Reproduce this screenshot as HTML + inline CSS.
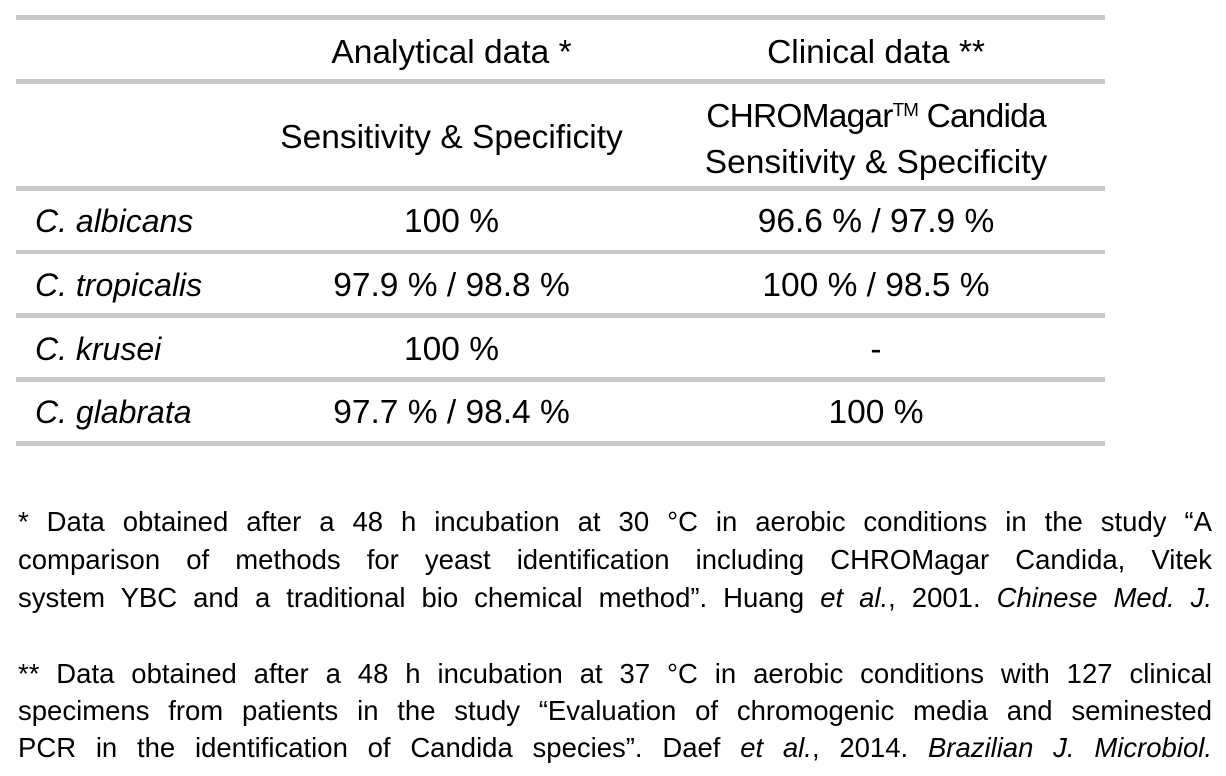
<!DOCTYPE html>
<html>
<head>
<meta charset="utf-8">
<style>
  html, body { margin:0; padding:0; background:#fff; }
  body { width:1226px; height:776px; overflow:hidden; position:relative;
         font-family:"Liberation Sans", Arial, sans-serif; color:#000; }
  .rule { position:absolute; left:16px; width:1089px; height:4.7px; background:#c8c9ca; }
  .t { position:absolute; font-size:33.5px; line-height:40px; white-space:nowrap; }
  .c2 { left:251.5px; width:400px; text-align:center; }
  .c3 { left:676px; width:400px; text-align:center; }
  .c1 { left:35px; font-style:italic; font-size:32px; }
  .tm { font-size:0.56em; position:relative; top:-0.62em; }
  .fn { position:absolute; left:18px; width:1194px; font-size:27.5px; line-height:38px;
        text-align:justify; text-align-last:justify; white-space:normal; }
  i { font-style:italic; }
</style>
</head>
<body>
  <!-- rules -->
  <div class="rule" style="top:15.3px"></div>
  <div class="rule" style="top:79px"></div>
  <div class="rule" style="top:186px"></div>
  <div class="rule" style="top:249.5px"></div>
  <div class="rule" style="top:313px"></div>
  <div class="rule" style="top:377px"></div>
  <div class="rule" style="top:441px"></div>

  <!-- header -->
  <div class="t c2" style="top:33px">Analytical data *</div>
  <div class="t c3" style="top:33px">Clinical data **</div>

  <div class="t c2" style="top:118.4px">Sensitivity &amp; Specificity</div>
  <div class="t c3" style="top:96.4px; line-height:42px;"><span style="letter-spacing:-0.8px">CHROMagar<span class="tm">TM</span> Candida</span><br>Sensitivity &amp; Specificity</div>

  <!-- rows -->
  <div class="t c1" style="top:201px">C. albicans</div>
  <div class="t c2" style="top:202.4px">100 %</div>
  <div class="t c3" style="top:202.4px">96.6 % / 97.9 %</div>

  <div class="t c1" style="top:265px">C. tropicalis</div>
  <div class="t c2" style="top:266.4px">97.9 % / 98.8 %</div>
  <div class="t c3" style="top:266.4px">100 % / 98.5 %</div>

  <div class="t c1" style="top:328.5px">C. krusei</div>
  <div class="t c2" style="top:329.9px">100 %</div>
  <div class="t c3" style="top:329.9px">-</div>

  <div class="t c1" style="top:392px">C. glabrata</div>
  <div class="t c2" style="top:393.4px">97.7 % / 98.4 %</div>
  <div class="t c3" style="top:393.4px">100 %</div>

  <!-- footnotes -->
  <div class="fn" style="top:502.5px">* Data obtained after a 48 h incubation at 30 °C in aerobic conditions in the study “A</div>
  <div class="fn" style="top:540.5px">comparison of methods for yeast identification including CHROMagar Candida, Vitek</div>
  <div class="fn" style="top:578.5px">system YBC and a traditional bio chemical method”. Huang <i>et al.</i>, 2001. <i>Chinese Med. J.</i></div>

  <div class="fn" style="top:654.5px">** Data obtained after a 48 h incubation at 37 °C in aerobic conditions with 127 clinical</div>
  <div class="fn" style="top:691.5px">specimens from patients in the study “Evaluation of chromogenic media and seminested</div>
  <div class="fn" style="top:728.5px">PCR in the identification of Candida species”. Daef <i>et al.</i>, 2014. <i>Brazilian J. Microbiol.</i></div>
</body>
</html>
